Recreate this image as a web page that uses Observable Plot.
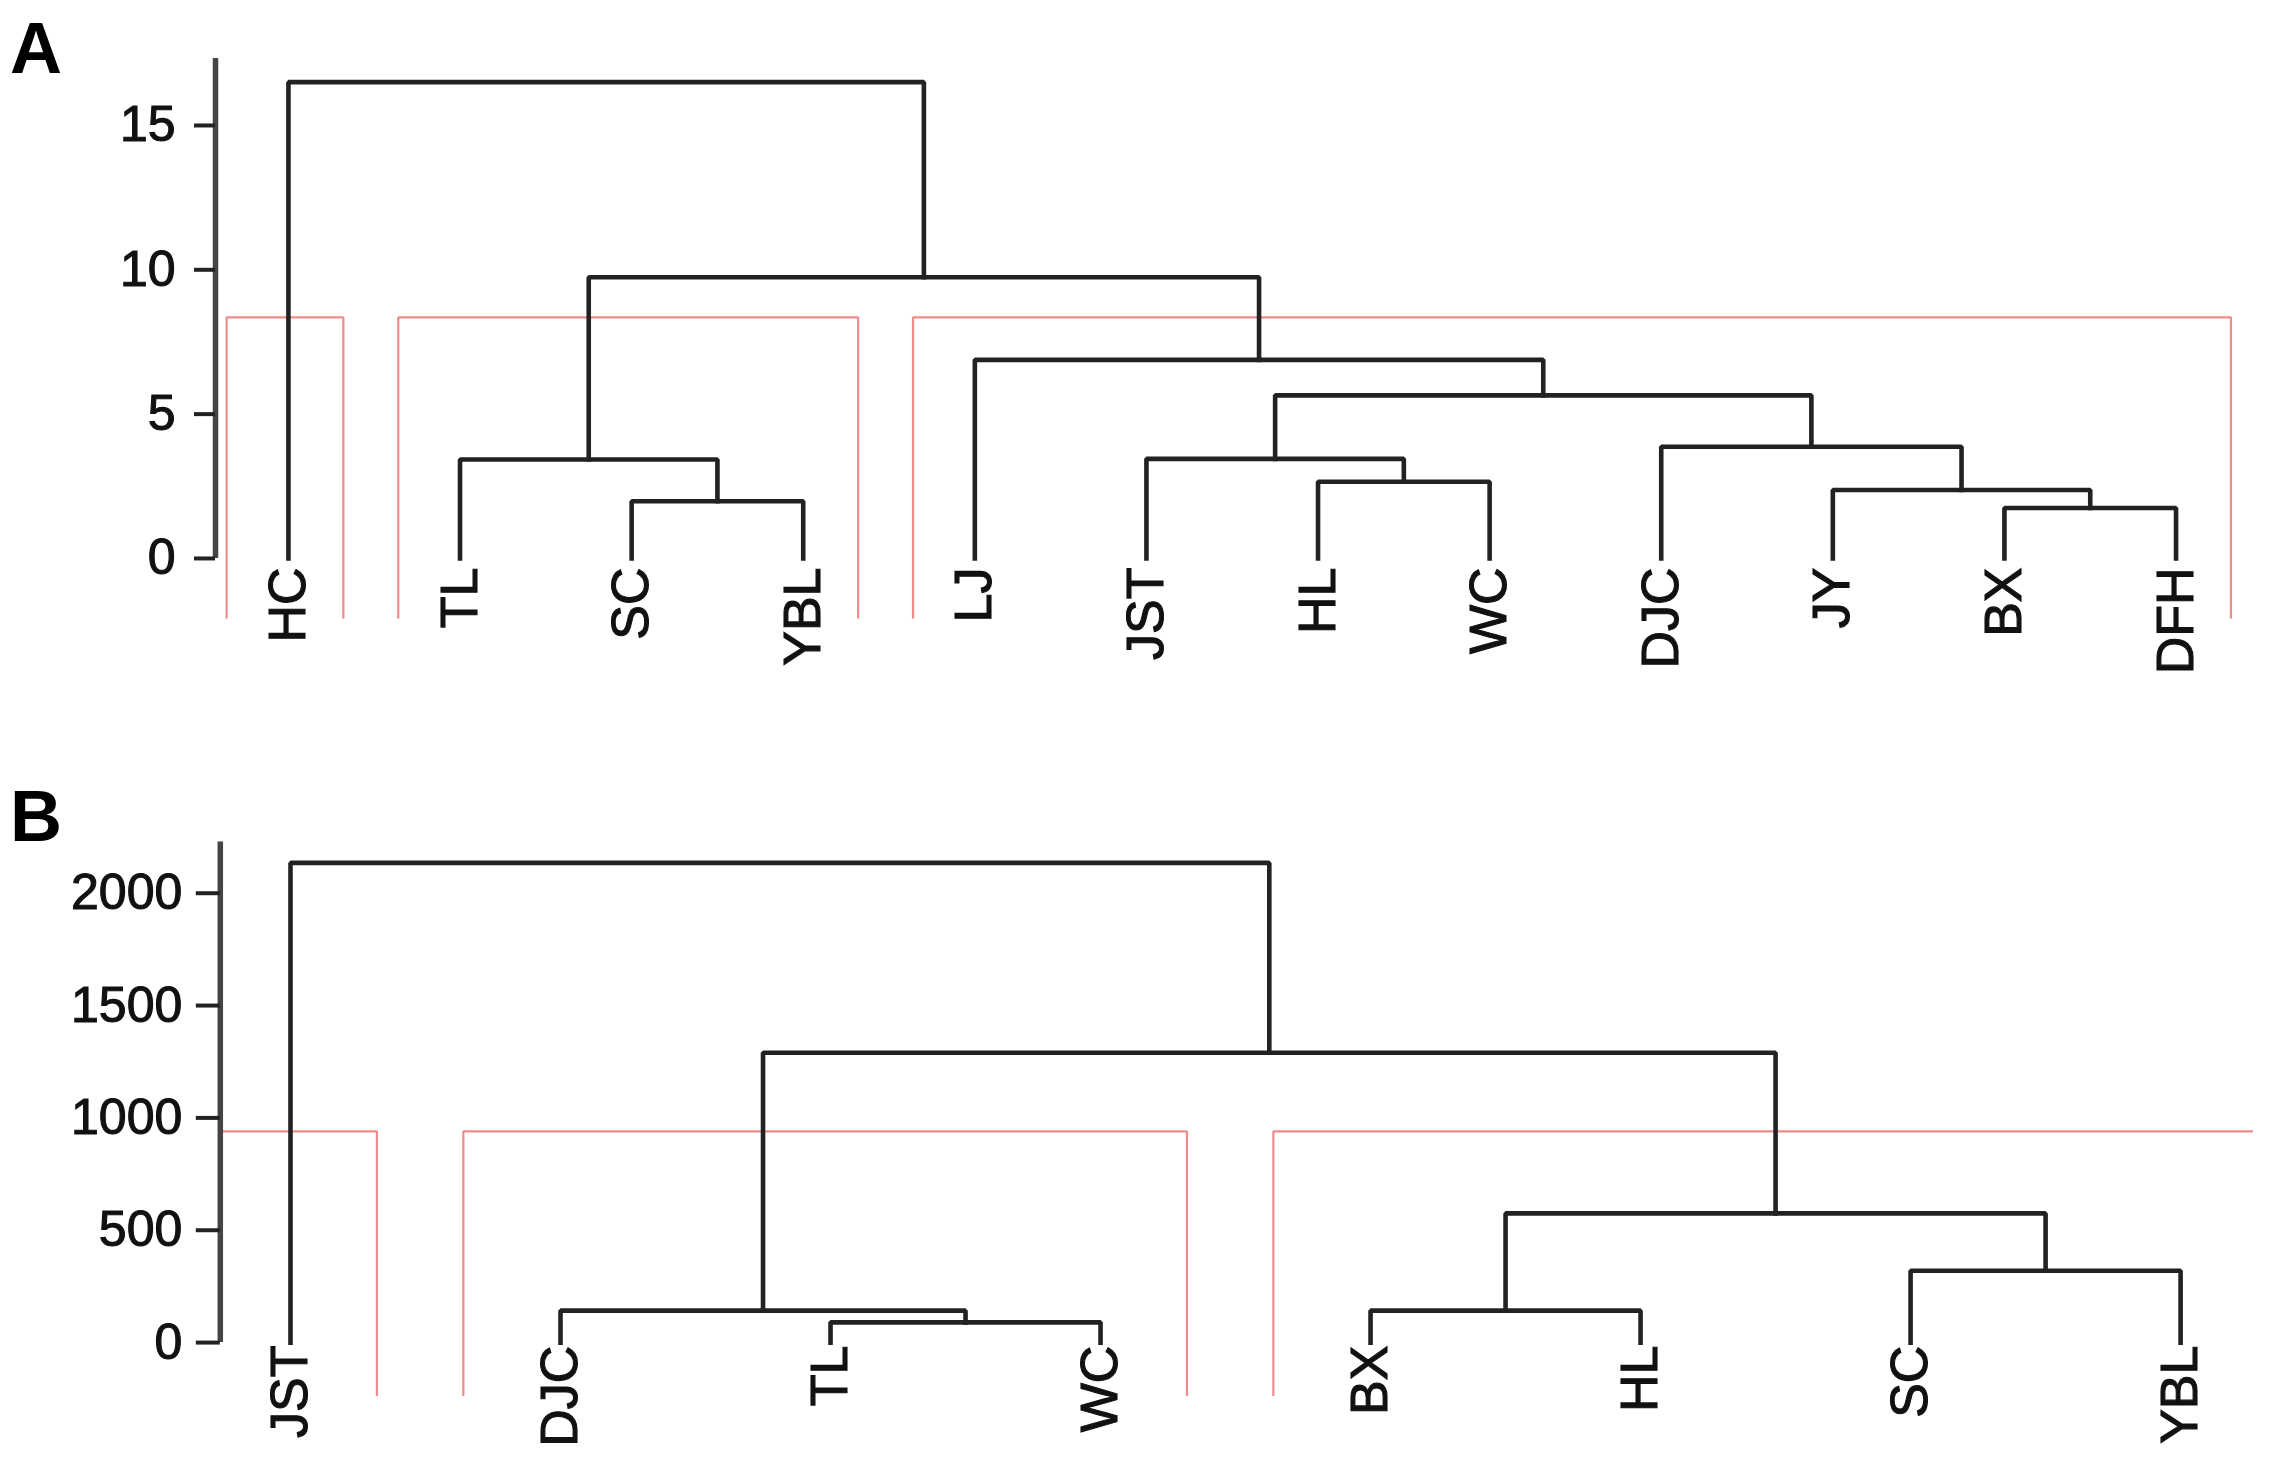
<!DOCTYPE html>
<html>
<head>
<meta charset="utf-8">
<script src="https://cdn.jsdelivr.net/npm/d3@7"></script>
<script src="https://cdn.jsdelivr.net/npm/@observablehq/plot@0.6"></script>
<style>
  html, body { margin: 0; padding: 0; background: #fff; }
  #wrap { position: relative; width: 2286px; height: 1470px; overflow: hidden; font-family: "Liberation Sans", Arial, sans-serif; }
  .panel { position: absolute; left: 0; }
  .tag { position: absolute; left: 10px; font: bold 72px/1 "Liberation Sans", Arial, sans-serif; color: #000; }
  #wrap svg text { paint-order: stroke; stroke: #111; stroke-width: 1.1px; }
</style>
</head>
<body>
<div id="wrap">
  <div id="pa" class="panel" style="top:0px"></div>
  <div id="pb" class="panel" style="top:740px"></div>
  <div class="tag" style="top:12px">A</div>
  <div class="tag" style="top:780px">B</div>
</div>
<script>
// ---------- Panel A data ----------
const leavesA = ["HC", "TL", "SC", "YBL", "LJ", "JST", "HL", "WC", "DJC", "JY", "BX", "DFH"];
// [node id, left child, right child, merge height]
const mergesA = [
  ["a1", "SC", "YBL", 1.98],
  ["a2", "TL", "a1", 3.43],
  ["a3", "HL", "WC", 2.66],
  ["a4", "JST", "a3", 3.45],
  ["a5", "BX", "DFH", 1.75],
  ["a6", "JY", "a5", 2.37],
  ["a7", "DJC", "a6", 3.87],
  ["a8", "a4", "a7", 5.65],
  ["a9", "LJ", "a8", 6.88],
  ["a10", "a2", "a9", 9.74],
  ["a11", "HC", "a10", 16.5]
];
const cutA = 8.35;
const clustersA = [["HC"], ["TL", "SC", "YBL"], ["LJ", "JST", "HL", "WC", "DJC", "JY", "BX", "DFH"]];
const ticksA = [0, 5, 10, 15];

// ---------- Panel B data ----------
const leavesB = ["JST", "DJC", "TL", "WC", "BX", "HL", "SC", "YBL"];
const mergesB = [
  ["b1", "TL", "WC", 90],
  ["b2", "DJC", "b1", 142],
  ["b3", "BX", "HL", 142],
  ["b4", "SC", "YBL", 320],
  ["b5", "b3", "b4", 575],
  ["b6", "b2", "b5", 1290],
  ["b7", "JST", "b6", 2135]
];
const cutB = 940;
const clustersB = [["JST"], ["DJC", "TL", "WC"], ["BX", "HL", "SC", "YBL"]];
const ticksB = [0, 500, 1000, 1500, 2000];

// ---------- helpers ----------
function treePaths(leaves, merges) {
  const pos = new Map(leaves.map((d, i) => [d, {x: i, h: 0}]));
  const pts = [];
  for (const [id, l, r, h] of merges) {
    const L = pos.get(l), R = pos.get(r);
    pts.push({g: id, x: L.x, y: L.h}, {g: id, x: L.x, y: h}, {g: id, x: R.x, y: h}, {g: id, x: R.x, y: R.h});
    pos.set(id, {x: (L.x + R.x) / 2, h});
  }
  return pts;
}
function bracketPaths(leaves, clusters, cut, bottom, padL, padR) {
  const pts = [];
  clusters.forEach((c, k) => {
    const x0 = leaves.indexOf(c[0]) - padL;
    const x1 = leaves.indexOf(c[c.length - 1]) + padR;
    pts.push({g: k, x: x0, y: bottom}, {g: k, x: x0, y: cut}, {g: k, x: x1, y: cut}, {g: k, x: x1, y: bottom});
  });
  return pts;
}

const INK = "#222";
const RED = "#ee8c8c";
const FONT = "'Liberation Sans', Arial, sans-serif";

function dendro({leaves, merges, clusters, cut, ticks, xDomain, xRange, yDomain, yRange, yTop,
                 width, height, margins, tickSize, tickPadding, labelDy, clip}) {
  return Plot.plot({
    width, height,
    ...margins,
    style: {fontSize: "50px", fontFamily: FONT, color: "#111", background: "#fff", overflow: "visible"},
    x: {type: "linear", domain: xDomain, range: xRange, axis: null},
    y: {type: "linear", domain: yDomain, range: yRange, axis: null},
    marks: [
      Plot.line(bracketPaths(leaves, clusters, cut, yDomain[0], 0.36, 0.32), {
        x: "x", y: "y", z: "g", stroke: RED, strokeWidth: 2.2,
        strokeLinejoin: "miter", strokeLinecap: "butt", clip
      }),
      Plot.line(treePaths(leaves, merges), {
        x: "x", y: "y", z: "g", stroke: INK, strokeWidth: 4.6,
        strokeLinejoin: "miter", strokeLinecap: "square"
      }),
      Plot.ruleX([xDomain[0]], {y1: 0, y2: yTop, stroke: "#454545", strokeWidth: 5.5}),
      Plot.axisY({ticks, tickSize, tickPadding, tickFormat: d => String(d),
                  stroke: "#222", strokeWidth: 4, label: null, fill: "#111"}),
      Plot.text(leaves, {
        x: (d, i) => i, y: 0, text: d => d, rotate: -90,
        textAnchor: "end", lineAnchor: "middle", dy: labelDy,
        fontSize: 52, fill: "#111"
      })
    ]
  });
}

document.getElementById("pa").appendChild(dendro({
  leaves: leavesA, merges: mergesA, clusters: clustersA, cut: cutA, ticks: ticksA,
  xDomain: [-0.425, 11.6], xRange: [215, 2278.5],
  yDomain: [-2.08, 17.32], yRange: [618, 58], yTop: 17.32,
  width: 2286, height: 740,
  margins: {marginLeft: 215, marginRight: 7.5, marginTop: 58, marginBottom: 122},
  tickSize: 21, tickPadding: 19, labelDy: 9, clip: false
}));

document.getElementById("pb").appendChild(dendro({
  leaves: leavesB, merges: mergesB, clusters: clustersB, cut: cutB, ticks: ticksB,
  xDomain: [-0.26, 7.27], xRange: [219.8, 2253],
  yDomain: [-240, 2228], yRange: [656, 101.5], yTop: 2228,
  width: 2286, height: 730,
  margins: {marginLeft: 219.8, marginRight: 33, marginTop: 101.5, marginBottom: 74},
  tickSize: 24, tickPadding: 14, labelDy: 3, clip: true
}));
</script>
</body>
</html>
